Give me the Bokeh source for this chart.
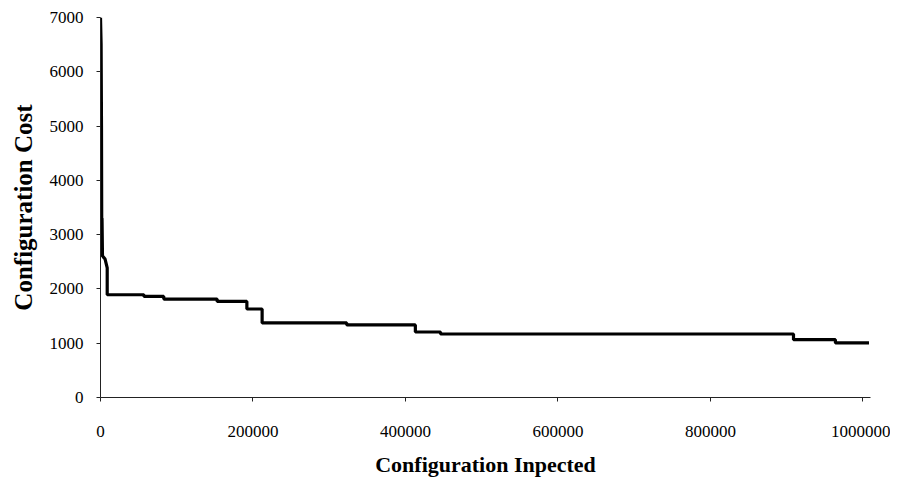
from bokeh.plotting import figure
from bokeh.models import Range1d, FixedTicker, NumeralTickFormatter
from bokeh.embed import file_html
from bokeh.resources import INLINE

# Data (configurations inspected vs. best configuration cost)
inspected = [0, 800, 1300, 1600, 2000, 2600, 3000, 6000, 8800, 8800,
             57000, 57000, 83000, 83000, 153000, 153000, 192000, 192000,
             212000, 212000, 323000, 323000, 413000, 413000, 446000, 446000,
             909000, 909000, 964000, 964000, 1008000]
cost = [7000, 6500, 5000, 3300, 3300, 2600, 2600, 2550, 2390, 1893,
        1893, 1862, 1862, 1814, 1814, 1770, 1770, 1630, 1630, 1373,
        1373, 1336, 1336, 1207, 1207, 1170, 1170, 1066, 1066, 1005, 1005]

x_ticks = [0, 200000, 400000, 600000, 800000, 1000000]
y_ticks = [0, 1000, 2000, 3000, 4000, 5000, 6000, 7000]

FONT = "Liberation Serif"

p = figure(width=890, height=479, output_backend="svg", toolbar_location=None,
           x_range=Range1d(0, 1010000), y_range=Range1d(0, 7000),
           min_border_left=100, min_border_top=17, min_border_right=20, min_border_bottom=75)

p.line(inspected, cost, line_color="black", line_width=3.2)

p.outline_line_color = None
p.grid.visible = False

p.xaxis.ticker = FixedTicker(ticks=x_ticks)
p.yaxis.ticker = FixedTicker(ticks=y_ticks)
p.xaxis.formatter = NumeralTickFormatter(format="0")
p.yaxis.formatter = NumeralTickFormatter(format="0")

for ax in (p.xaxis[0], p.yaxis[0]):
    ax.axis_line_color = "#222222"
    ax.axis_line_width = 1
    ax.major_tick_line_color = "#222222"
    ax.major_tick_in = 0
    ax.major_tick_out = 4
    ax.minor_tick_line_color = None
    ax.major_label_text_font = FONT
    ax.major_label_text_font_size = "17px"
    ax.major_label_text_color = "black"
    ax.axis_label_text_font = FONT
    ax.axis_label_text_font_style = "bold"
    ax.axis_label_text_color = "black"

p.xaxis.axis_label = "Configuration Inpected"
p.yaxis.axis_label = "Configuration Cost"
p.xaxis.axis_label_text_font_size = "22px"
p.yaxis.axis_label_text_font_size = "25px"
p.xaxis.major_label_standoff = 24
p.xaxis.axis_label_standoff = 12
p.yaxis.major_label_standoff = 13
p.yaxis.axis_label_standoff = 10

open("out.html", "w").write(file_html(p, INLINE))
